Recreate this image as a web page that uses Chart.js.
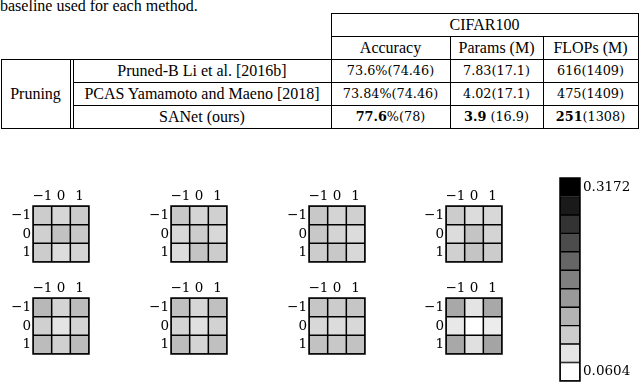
<!DOCTYPE html>
<html>
<head>
<meta charset="utf-8">
<script src="https://cdn.jsdelivr.net/npm/chart.js@4.4.0/dist/chart.umd.min.js"></script>
<style>
  html, body { margin: 0; padding: 0; background: #fff; }
  body { width: 640px; height: 382px; position: relative; overflow: hidden; font-family: "Liberation Serif", serif; color: #000; }
  .hl { position: absolute; height: 1px; background: #000; }
  .vl { position: absolute; width: 1px; background: #000; }
  .cell { position: absolute; text-align: center; white-space: nowrap; font-size: 16px; }
  .num { font-family: "DejaVu Serif", serif; font-size: 12.8px; }
  canvas { position: absolute; }
  #caption { position: absolute; left: 0; top: -2px; font-size: 16px; line-height: 16px; white-space: nowrap; }
</style>
</head>
<body>
<div id="caption">baseline used for each method.</div>
<div id="table"></div>
<script>
// Table data
const datasetName = 'CIFAR100';
const columnHeaders = ['Accuracy', 'Params (M)', 'FLOPs (M)'];
const groupName = 'Pruning';
const methods = ['Pruned-B Li et al. [2016b]', 'PCAS Yamamoto and Maeno [2018]', 'SANet (ours)'];
const accuracy = [73.6, 73.84, 77.6];
const accuracyBase = [74.46, 74.46, 78];
const params = ['7.83', '4.02', '3.9'];
const paramsBase = [17.1, 17.1, 16.9];
const flops = [616, 475, 251];
const flopsBase = [1409, 1409, 1308];
const bestRow = 2;

// Kernel heatmaps: 8 kernels, rows y = -1, 0, 1 and columns x = -1, 0, 1
const kernelTicks = ['\u22121', '0', '1'];
const kernelPos = [-1, 0, 1];
const kernels = [
    [[0.112, 0.102, 0.112], [0.108, 0.122, 0.116], [0.112, 0.096, 0.104]],
    [[0.116, 0.104, 0.108], [0.100, 0.112, 0.100], [0.096, 0.120, 0.112]],
    [[0.116, 0.104, 0.108], [0.116, 0.104, 0.096], [0.112, 0.116, 0.100]],
    [[0.112, 0.096, 0.100], [0.096, 0.120, 0.104], [0.108, 0.120, 0.112]],
    [[0.132, 0.104, 0.128], [0.108, 0.088, 0.104], [0.128, 0.108, 0.128]],
    [[0.124, 0.102, 0.124], [0.104, 0.092, 0.106], [0.128, 0.104, 0.124]],
    [[0.118, 0.112, 0.118], [0.100, 0.096, 0.100], [0.122, 0.116, 0.122]],
    [[0.148, 0.088, 0.148], [0.084, 0.0604, 0.080], [0.148, 0.092, 0.152]]
];

// Colour bar
const cbMin = 0.0604;
const cbMax = 0.3172;
const cbLevels = [0.0604, 0.0861, 0.1118, 0.1374, 0.1631, 0.1888, 0.2145, 0.2402, 0.2658, 0.2915, 0.3172];
const cbTicks = [0.3172, 0.0604];

// Layout
const panelLeft = [33, 171, 309, 446];
const panelTop = [206, 298];
const tickFont = { family: 'DejaVu Serif', size: 13.5 };

function grayFor(v) {
    const t = Math.min(1, Math.max(0, (v - cbMin) / (cbMax - cbMin)));
    const g = Math.round(255 * (1 - t));
    return `rgb(${g},${g},${g})`;
}

// fixed axis sizes, no automatic label padding
function fixSize(w, h) {
    return function (s) {
        if (w !== null) s.width = w;
        if (h !== null) s.height = h;
        s.paddingTop = 0;
        s.paddingBottom = 0;
        s.paddingLeft = 0;
        s.paddingRight = 0;
    };
}

// ---- table ----
const table = document.getElementById('table');
function line(cls, x, y, len) {
    const d = document.createElement('div');
    d.className = cls;
    d.style.left = x + 'px';
    d.style.top = y + 'px';
    if (cls === 'hl') d.style.width = len + 'px'; else d.style.height = len + 'px';
    table.appendChild(d);
}
function cell(html, x0, x1, y0, y1, extra) {
    const d = document.createElement('div');
    d.className = 'cell' + (extra ? ' ' + extra : '');
    d.style.left = x0 + 'px';
    d.style.width = (x1 - x0) + 'px';
    d.style.top = y0 + 'px';
    d.style.height = (y1 - y0) + 'px';
    d.style.lineHeight = (y1 - y0) + 'px';
    d.innerHTML = html;
    table.appendChild(d);
}

const colX = [1, 70, 73, 331, 450, 543, 638];
const rowY = [13, 36, 59, 82, 105, 128];

line('hl', 331, rowY[0], 308);
line('hl', 331, rowY[1], 308);
line('hl', 1, rowY[2], 638);
line('hl', 73, rowY[3], 566);
line('hl', 73, rowY[4], 566);
line('hl', 1, rowY[5], 638);
line('vl', colX[0], rowY[2], rowY[5] - rowY[2] + 1);
line('vl', colX[1], rowY[2], rowY[5] - rowY[2] + 1);
line('vl', colX[2], rowY[2], rowY[5] - rowY[2] + 1);
line('vl', colX[3], rowY[0], rowY[5] - rowY[0] + 1);
line('vl', colX[4], rowY[1], rowY[5] - rowY[1] + 1);
line('vl', colX[5], rowY[1], rowY[5] - rowY[1] + 1);
line('vl', colX[6], rowY[0], rowY[5] - rowY[0] + 1);

cell(datasetName, colX[3], colX[6], rowY[0], rowY[1]);
columnHeaders.forEach((h, i) => cell(h, colX[3 + i], colX[4 + i], rowY[1], rowY[2]));
cell(groupName, colX[0], colX[1], rowY[2], rowY[5]);

function bold(txt, isBest) {
    return isBest ? '<b>' + txt + '</b>' : txt;
}
methods.forEach((m, r) => {
    const y0 = rowY[2 + r], y1 = rowY[3 + r];
    const best = r === bestRow;
    cell(m, colX[2], colX[3], y0, y1);
    cell(bold(accuracy[r], best) + '%(' + accuracyBase[r] + ')', colX[3], colX[4], y0, y1, 'num');
    cell(bold(params[r], best) + (best ? ' ' : '') + '(' + paramsBase[r] + ')', colX[4], colX[5], y0, y1, 'num');
    cell(bold(flops[r], best) + '(' + flopsBase[r] + ')', colX[5], colX[6], y0, y1, 'num');
});

// ---- charts ----
const framePlugin = {
    id: 'frame',
    afterDatasetsDraw(chart) {
        const a = chart.chartArea;
        const ctx = chart.ctx;
        ctx.save();
        ctx.strokeStyle = '#000';
        ctx.lineWidth = 1.5;
        ctx.strokeRect(a.left, a.top, a.right - a.left, a.bottom - a.top);
        ctx.restore();
    }
};

function addCanvas(left, top, w, h) {
    const c = document.createElement('canvas');
    c.width = w;
    c.height = h;
    c.style.left = left + 'px';
    c.style.top = top + 'px';
    c.style.width = w + 'px';
    c.style.height = h + 'px';
    document.body.appendChild(c);
    return c;
}

function makeKernel(idx) {
    const values = kernels[idx];
    const canvas = addCanvas(panelLeft[idx % 4] - 33, panelTop[Math.floor(idx / 4)] - 20, 91, 78);
    const datasets = kernelPos.map((r, ri) => ({
        data: kernelPos.map(() => [r - 0.5, r + 0.5]),
        backgroundColor: values[ri].map(grayFor),
        borderColor: '#000',
        borderWidth: 1.1,
        borderSkipped: false,
        grouped: false,
        barPercentage: 1,
        categoryPercentage: 1
    }));
    new Chart(canvas, {
        type: 'bar',
        data: { labels: kernelTicks, datasets: datasets },
        options: {
            responsive: false,
            animation: false,
            devicePixelRatio: 1,
            layout: { padding: { left: 0, top: 0, right: 2, bottom: 2 } },
            plugins: { legend: { display: false }, tooltip: { enabled: false } },
            scales: {
                x: {
                    position: 'top',
                    grid: { display: false, drawTicks: false },
                    border: { display: false },
                    ticks: { color: '#000', font: tickFont, padding: 1, maxRotation: 0, autoSkip: false },
                    afterFit: fixSize(null, 20)
                },
                y: {
                    min: -1.5,
                    max: 1.5,
                    reverse: true,
                    grid: { display: false, drawTicks: false },
                    border: { display: false },
                    afterBuildTicks(s) { s.ticks = kernelPos.map(v => ({ value: v })); },
                    ticks: { color: '#000', font: tickFont, padding: 2, callback: (v, i) => kernelTicks[i] },
                    afterFit: fixSize(33, null)
                }
            }
        },
        plugins: [framePlugin]
    });
}

for (let i = 0; i < kernels.length; i++) makeKernel(i);

// colour bar
const half = (cbLevels[1] - cbLevels[0]) / 2;
const cbCanvas = addCanvas(558, 176, 82, 207);
new Chart(cbCanvas, {
    type: 'bar',
    data: {
        labels: [''],
        datasets: cbLevels.map(v => ({
            data: [[v - half, v + half]],
            backgroundColor: grayFor(v),
            borderColor: '#000',
            borderWidth: 1.1,
            borderSkipped: false,
            grouped: false,
            barPercentage: 1,
            categoryPercentage: 1
        }))
    },
    options: {
        responsive: false,
        animation: false,
        devicePixelRatio: 1,
        layout: { padding: { left: 2, top: 2, right: 0, bottom: 2 } },
        plugins: { legend: { display: false }, tooltip: { enabled: false } },
        scales: {
            x: { display: false },
            y: {
                position: 'right',
                min: cbMin - half,
                max: cbMax + half,
                grid: { display: false, drawTicks: false },
                border: { display: false },
                afterBuildTicks(s) { s.ticks = cbTicks.map(v => ({ value: v })); },
                ticks: { color: '#000', font: tickFont, padding: 3, callback: v => v.toFixed(4) },
                afterFit: fixSize(60, null)
            }
        }
    },
    plugins: [framePlugin]
});
</script>
</body>
</html>
